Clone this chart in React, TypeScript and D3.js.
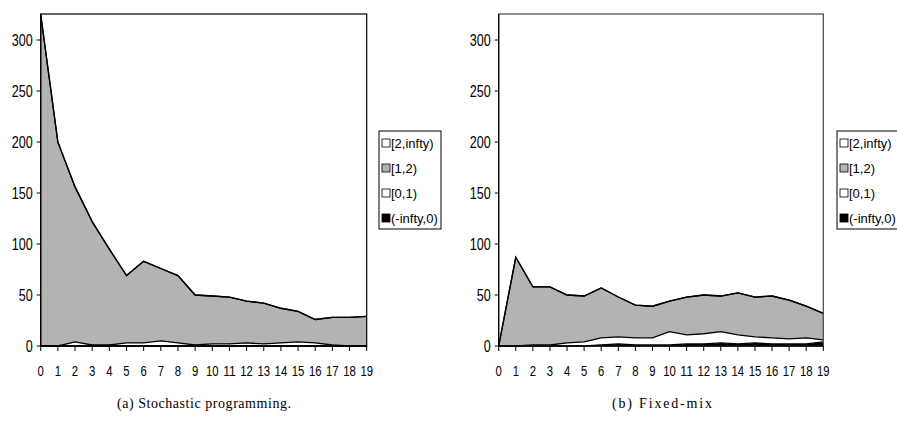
import React from "react";
import * as d3 from "d3";

const categories = ["0","1","2","3","4","5","6","7","8","9","10","11","12","13","14","15","16","17","18","19"];
const seriesNames = ["(-infty,0)", "[0,1)", "[1,2)", "[2,infty)"];
const yTicks = [0, 50, 100, 150, 200, 250, 300];

// (a) Stochastic programming
const spNeg = [0,0,0,0,0,0,0,0,0,0,0,0,0,0,0,0,0,0,0,0];
const spZeroOne = [0,0,4,1,1,3,3,5,3,1,2,2,3,2,3,4,3,1,0,0];
const spOneTwo = [325,200,152,121,94,66,80,71,66,49,47,46,41,40,34,30,23,27,28,29];
const spTwoInf = [0,0,0,0,0,0,0,0,0,0,0,0,0,0,0,0,0,0,0,0];

// (b) Fixed-mix
const fmNeg = [0,0,0,0,0,0,1,2,1,1,1,2,2,3,2,3,2,2,2,4];
const fmZeroOne = [0,0,1,1,3,4,7,7,7,7,13,9,10,11,9,6,6,5,6,2];
const fmOneTwo = [0,87,57,57,47,45,49,39,32,31,30,37,38,35,41,39,41,38,31,26];
const fmTwoInf = [0,0,0,0,0,0,0,0,0,0,0,0,0,0,0,0,0,0,0,0];

const captions = ["(a) Stochastic programming.", "(b) Fixed-mix"];

const fills = ["#000000", "#ffffff", "#b3b3b3", "#ffffff"];
const NARROW = "'Liberation Sans Narrow', 'Arial Narrow', 'Liberation Sans', Arial, sans-serif";
const SANS = "'Liberation Sans', Arial, sans-serif";

type PanelProps = {
  left: number; right: number; top: number; bottom: number;
  data: number[][]; legendX: number; legendW: number; frameColor: string;
  caption: string; captionX: number; captionW: number;
};

function Panel({ left, right, top, bottom, data, legendX, legendW, frameColor, caption, captionX, captionW }: PanelProps) {
  const x = d3.scaleLinear().domain([0, categories.length - 1]).range([left, right]);
  const y = d3.scaleLinear().domain([0, 325.5]).range([bottom, top]);
  const rows = categories.map((c, i) => {
    const r: any = { i };
    seriesNames.forEach((k, s) => (r[k] = data[s][i]));
    return r;
  });
  const stacked = d3.stack<any>().keys(seriesNames)(rows);
  const area = d3.area<any>().x((d) => x(d.data.i)).y0((d) => y(d[0])).y1((d) => y(d[1]));
  const line = d3.line<any>().x((d) => x(d.data.i)).y((d) => y(d[1]));
  const legendTop = 131;
  const rowH = 25;
  return (
    <g>
      <rect x={left} y={top} width={right - left} height={bottom - top} fill="#fff" />
      {stacked.map((s, k) => (
        <path key={"a" + k} d={area(s) || ""} fill={fills[k]} />
      ))}
      {stacked.map((s, k) => (
        <path key={"l" + k} d={line(s) || ""} fill="none" stroke="#000" strokeWidth={1.3} />
      ))}
      <rect x={left} y={top} width={right - left} height={bottom - top} fill="none" stroke={frameColor} strokeWidth={1.2} />
      <line x1={left} x2={right} y1={bottom} y2={bottom} stroke="#000" strokeWidth={1.3} />
      <line x1={left} x2={left} y1={top} y2={bottom} stroke="#000" strokeWidth={1.2} />
      {yTicks.map((t) => (
        <g key={"y" + t}>
          <line x1={left - 4} x2={left} y1={y(t)} y2={y(t)} stroke="#000" />
          <text x={left - 8} y={y(t)} dy="0.36em" textAnchor="end" fontFamily={NARROW} fontSize={16}
            textLength={String(t).length * 7} lengthAdjust="spacingAndGlyphs">{t}</text>
        </g>
      ))}
      {categories.map((c, i) => (
        <g key={"x" + i}>
          <line x1={x(i)} x2={x(i)} y1={bottom} y2={bottom + 5} stroke="#000" />
          <text x={x(i)} y={bottom + 30} textAnchor="middle" fontFamily={NARROW} fontSize={14.5}
            textLength={c.length * 6.3} lengthAdjust="spacingAndGlyphs">{c}</text>
        </g>
      ))}
      <rect x={legendX} y={legendTop} width={legendW} height={rowH * 4 - 2} fill="#fff" stroke="#000" strokeWidth={1} />
      {seriesNames.slice().reverse().map((nm, j) => {
        const k = seriesNames.length - 1 - j;
        const cy = legendTop + 12 + j * rowH;
        return (
          <g key={"lg" + j}>
            <rect x={legendX + 3} y={cy - 4} width={8} height={8} fill={fills[k]} stroke="#000" strokeWidth={0.8} />
            <text x={legendX + 12} y={cy} dy="0.36em" fontFamily={SANS} fontSize={13}>{nm}</text>
          </g>
        );
      })}
      <text x={captionX} y={408} textAnchor="middle" fontFamily="'Liberation Serif', 'DejaVu Serif', serif" fontSize={14}
        textLength={captionW} lengthAdjust="spacing">{caption}</text>
    </g>
  );
}

export default function App() {
  return (
    <svg width={897} height={430} style={{ position: "absolute", left: 0, top: 0, background: "#fff" }}>
      <rect x={0} y={0} width={897} height={430} fill="#fff" />
      <Panel left={40.7} right={366.7} top={14} bottom={346} data={[spNeg, spZeroOne, spOneTwo, spTwoInf]}
        legendX={379} legendW={62} frameColor="#000" caption={captions[0]} captionX={204} captionW={174} />
      <Panel left={498.7} right={823.3} top={14} bottom={346} data={[fmNeg, fmZeroOne, fmOneTwo, fmTwoInf]}
        legendX={837} legendW={62} frameColor="#444" caption={captions[1]} captionX={662} captionW={100} />
    </svg>
  );
}
